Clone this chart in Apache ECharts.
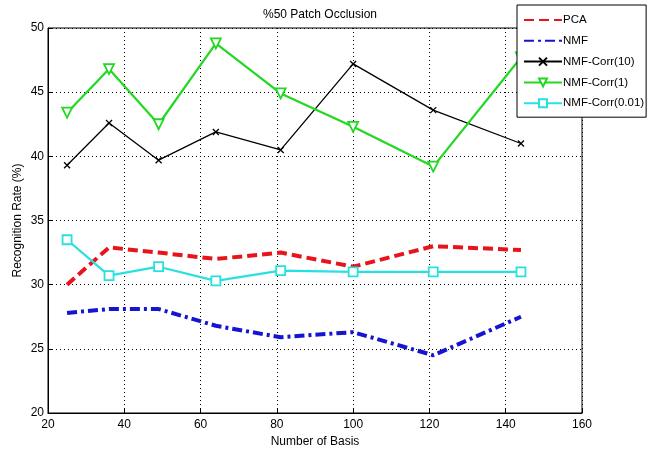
<!DOCTYPE html>
<html>
<head>
<meta charset="utf-8">
<script src="https://cdn.jsdelivr.net/npm/echarts@6/dist/echarts.min.js"></script>
<style>
html,body{margin:0;padding:0;background:#fff;}
#chart{width:651px;height:459px;}
</style>
</head>
<body>
<div id="chart"></div>
<script>
// Number of basis vectors tested
const basis = [25, 36, 49, 64, 81, 100, 121, 144];
// Recognition rate (%) for each method
const pca = [30.0, 32.9, 32.5, 32.0, 32.5, 31.4, 33.0, 32.7];
const nmf = [27.8, 28.1, 28.1, 26.8, 25.9, 26.3, 24.5, 27.5];
const nmfCorr10 = [39.3, 42.6, 39.7, 41.9, 40.5, 47.2, 43.6, 41.0];
const nmfCorr1 = [43.4, 46.8, 42.5, 48.8, 44.9, 42.3, 39.2, 47.7];
const nmfCorr001 = [33.5, 30.7, 31.4, 30.3, 31.1, 31.0, 31.0, 31.0];
const seriesNames = ['PCA', 'NMF', 'NMF-Corr(10)', 'NMF-Corr(1)', 'NMF-Corr(0.01)'];
// lines drawn without markers
const plainLines = ['PCA', 'NMF'];

const FONT = 'Liberation Sans';
const pairs = vals => basis.map((b, i) => [b, vals[i]]);
const xMark = 'path://M0,0 L10,10 M10,0 L0,10';

const chart = echarts.init(document.getElementById('chart'));
chart.setOption({
  animation: false,
  backgroundColor: '#fff',
  textStyle: { fontFamily: FONT, color: '#000' },
  title: {
    text: '%50 Patch Occlusion',
    left: 315, top: 4, textAlign: 'center',
    textStyle: { fontFamily: FONT, fontSize: 12, fontWeight: 'normal', color: '#000' }
  },
  grid: {
    left: 48, right: 69, top: 28, bottom: 46,
    show: true, borderColor: '#000', borderWidth: 1, backgroundColor: '#fff'
  },
  legend: {
    data: seriesNames.map(n => plainLines.includes(n)
      ? { name: n, itemStyle: { opacity: 0, borderWidth: 0 } }
      : { name: n }),
    orient: 'vertical',
    left: 517, top: 5,
    padding: [8, 2, 7, 6],
    itemWidth: 38, itemHeight: 10, itemGap: 6.8,
    backgroundColor: '#fff', borderColor: '#000', borderWidth: 1,
    borderRadius: 0,
    textStyle: { fontFamily: FONT, fontSize: 11.5, lineHeight: 14, color: '#000', padding: [0, 0, 0, -4] },
    z: 10
  },
  xAxis: {
    type: 'value', min: 20, max: 160, interval: 20,
    name: 'Number of Basis', nameLocation: 'middle', nameGap: 23,
    nameMoveOverlap: false,
    nameTextStyle: { fontFamily: FONT, fontSize: 12, color: '#000' },
    axisLine: { show: true, lineStyle: { color: '#000', width: 1 } },
    axisTick: { show: true, inside: true, length: 4, lineStyle: { color: '#000' } },
    axisLabel: { fontFamily: FONT, fontSize: 12, color: '#000', margin: 6 },
    splitLine: { show: true, lineStyle: { color: '#000', type: [1, 3], width: 1 } }
  },
  yAxis: {
    type: 'value', min: 20, max: 50, interval: 5,
    name: 'Recognition Rate (%)', nameLocation: 'middle', nameGap: 24, nameRotate: 90,
    nameMoveOverlap: false,
    nameTextStyle: { fontFamily: FONT, fontSize: 12, color: '#000' },
    axisLine: { show: true, lineStyle: { color: '#000', width: 1 } },
    axisTick: { show: true, inside: true, length: 4, lineStyle: { color: '#000' } },
    axisLabel: { fontFamily: FONT, fontSize: 12, color: '#000', margin: 4 },
    splitLine: { show: true, lineStyle: { color: '#000', type: [1, 3], width: 1 } }
  },
  series: [
    {
      name: 'PCA', type: 'line', data: pairs(pca),
      symbol: 'none',
      lineStyle: { color: '#e8141c', width: 4, type: [10, 5] },
      itemStyle: { color: '#e8141c' }
    },
    {
      name: 'NMF', type: 'line', data: pairs(nmf),
      symbol: 'none',
      lineStyle: { color: '#1414d2', width: 4, type: [10, 4, 3, 4] },
      itemStyle: { color: '#1414d2' }
    },
    {
      name: 'NMF-Corr(10)', type: 'line', data: pairs(nmfCorr10),
      symbol: xMark, symbolSize: 6,
      lineStyle: { color: '#000', width: 1.3 },
      itemStyle: { color: '#000', borderColor: '#000', borderWidth: 1.3 }
    },
    {
      name: 'NMF-Corr(1)', type: 'line', data: pairs(nmfCorr1),
      symbol: 'triangle', symbolRotate: 180, symbolSize: 10,
      lineStyle: { color: '#22d822', width: 2.2 },
      itemStyle: { color: '#fff', borderColor: '#22d822', borderWidth: 1.8 }
    },
    {
      name: 'NMF-Corr(0.01)', type: 'line', data: pairs(nmfCorr001),
      symbol: 'rect', symbolSize: 9,
      lineStyle: { color: '#28e0e0', width: 2.2 },
      itemStyle: { color: '#fff', borderColor: '#28e0e0', borderWidth: 1.8 }
    }
  ]
});
</script>
</body>
</html>
